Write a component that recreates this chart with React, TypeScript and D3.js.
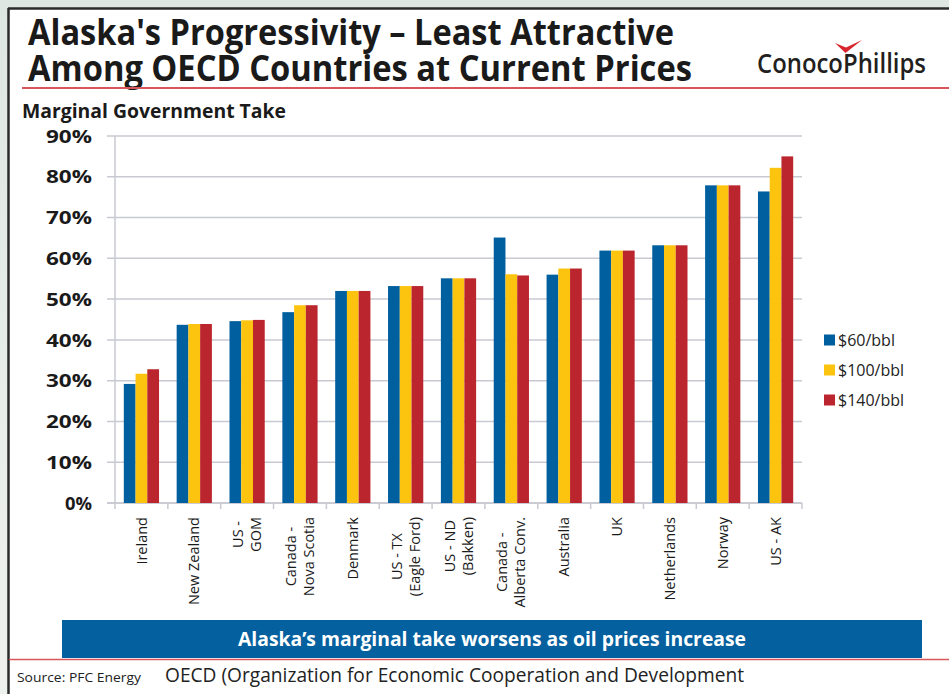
import React, { useEffect, useRef } from "react";
import * as d3 from "d3";

const categories: string[][] = [
  ["Ireland"],
  ["New Zealand"],
  ["US -", "GOM"],
  ["Canada -", "Nova Scotia"],
  ["Denmark"],
  ["US - TX", "(Eagle Ford)"],
  ["US - ND", "(Bakken)"],
  ["Canada -", "Alberta Conv."],
  ["Australia"],
  ["UK"],
  ["Netherlands"],
  ["Norway"],
  ["US - AK"],
];
const seriesNames = ["$60/bbl", "$100/bbl", "$140/bbl"];
const seriesColors = ["#005f9e", "#fdc40f", "#bb252d"];
const price60 = [29.2, 43.7, 44.6, 46.8, 52.0, 53.2, 55.1, 65.1, 56.0, 61.9, 63.2, 77.9, 76.4];
const price100 = [31.7, 43.9, 44.8, 48.5, 52.0, 53.2, 55.1, 56.1, 57.5, 61.9, 63.2, 77.9, 82.2];
const price140 = [32.8, 43.9, 44.9, 48.5, 52.0, 53.2, 55.1, 55.8, 57.5, 61.9, 63.2, 77.9, 85.0];
const yTicks = [0, 10, 20, 30, 40, 50, 60, 70, 80, 90];

const FONT = "'Open Sans', 'DejaVu Sans', sans-serif";

export default function App() {
  const ref = useRef<SVGSVGElement | null>(null);

  useEffect(() => {
    const svg = d3.select(ref.current);
    svg.selectAll("*").remove();
    const W = 949, H = 694;

    // background
    const defs = svg.append("defs");
    const grad = defs.append("linearGradient").attr("id", "bg").attr("x1", 0).attr("y1", 0).attr("x2", 0).attr("y2", 1);
    grad.append("stop").attr("offset", 0).attr("stop-color", "#dfe7e2");
    grad.append("stop").attr("offset", 1).attr("stop-color", "#eef2ef");
    svg.append("rect").attr("width", W).attr("height", H).attr("fill", "url(#bg)");
    svg.append("rect").attr("x", 8).attr("y", 8).attr("width", W - 8).attr("height", H - 8).attr("fill", "#ffffff");
    svg.append("line").attr("x1", 8).attr("x2", W).attr("y1", 8.5).attr("y2", 8.5).attr("stroke", "#2b2b2b").attr("stroke-width", 2.5);
    svg.append("line").attr("x1", 8.5).attr("x2", 8.5).attr("y1", 8).attr("y2", H).attr("stroke", "#2b2b2b").attr("stroke-width", 2.5);

    // title
    const title = svg.append("g").attr("font-family", FONT).attr("font-weight", 700).attr("fill", "#1a1a1a");
    title.append("text").attr("x", 28).attr("y", 45).attr("font-size", 35)
      .attr("textLength", 646).attr("lengthAdjust", "spacingAndGlyphs")
      .text("Alaska's Progressivity – Least Attractive");
    title.append("text").attr("x", 28).attr("y", 81).attr("font-size", 35)
      .attr("textLength", 664).attr("lengthAdjust", "spacingAndGlyphs")
      .text("Among OECD Countries at Current Prices");

    // logo
    svg.append("text").attr("x", 757).attr("y", 73).attr("font-family", FONT).attr("font-size", 27)
      .attr("font-weight", 600).attr("fill", "#231f20").attr("textLength", 169).attr("lengthAdjust", "spacingAndGlyphs")
      .text("ConocoPhillips");
    svg.append("path").attr("d", "M835,43 L846,47.5 L862,40 L845.5,53 Z").attr("fill", "#d7262e");

    svg.append("line").attr("x1", 22).attr("x2", W).attr("y1", 88).attr("y2", 88).attr("stroke", "#d9575b").attr("stroke-width", 2);

    svg.append("text").attr("x", 22).attr("y", 118).attr("font-family", FONT).attr("font-weight", 700)
      .attr("font-size", 19).attr("fill", "#1a1a1a").attr("textLength", 264).attr("lengthAdjust", "spacingAndGlyphs")
      .text("Marginal Government Take");

    // plot
    const x0 = 115, x1 = 802, yTop = 136, yBot = 503;
    const y = d3.scaleLinear().domain([0, 90]).range([yBot, yTop]);
    const xc = d3.scaleBand<number>().domain(d3.range(categories.length)).range([x0, x1]).paddingInner(0).paddingOuter(0);
    const bw = xc.bandwidth();

    const grid = svg.append("g");
    yTicks.forEach((t) => {
      grid.append("line").attr("x1", 107).attr("x2", x1).attr("y1", y(t)).attr("y2", y(t))
        .attr("stroke", t === 0 ? "#b9bac4" : "#c8c9d2").attr("stroke-width", 1.5);
      grid.append("text").attr("x", 92).attr("y", y(t)).attr("dy", "0.36em").attr("text-anchor", "end")
        .attr("font-family", FONT).attr("font-weight", 700).attr("font-size", 18.5).attr("fill", "#1a1a1a")
        .attr("textLength", t === 0 ? 27 : 46).attr("lengthAdjust", "spacingAndGlyphs")
        .text(`${t}%`);
    });
    grid.append("line").attr("x1", x0).attr("x2", x0).attr("y1", yTop).attr("y2", yBot + 6)
      .attr("stroke", "#c8c9d2").attr("stroke-width", 1.5);
    for (let i = 1; i <= categories.length; i++) {
      const xx = x0 + bw * i;
      grid.append("line").attr("x1", xx).attr("x2", xx).attr("y1", yBot).attr("y2", yBot + 6)
        .attr("stroke", "#c8c9d2").attr("stroke-width", 1.5);
    }

    const series = [price60, price100, price140];
    const bars = svg.append("g");
    const barW = bw / 4.5;
    series.forEach((vals, si) => {
      bars.selectAll(null).data(vals).enter().append("rect")
        .attr("x", (_d, i) => (xc(i) as number) + barW * 0.75 + si * barW)
        .attr("y", (d) => y(d))
        .attr("width", barW)
        .attr("height", (d) => yBot - y(d))
        .attr("fill", seriesColors[si]);
    });

    // x labels
    const lab = svg.append("g").attr("font-family", FONT).attr("font-size", 14.5).attr("fill", "#1a1a1a");
    categories.forEach((lines, i) => {
      const cx = (xc(i) as number) + bw / 2;
      const g = lab.append("g").attr("transform", `translate(${cx},517) rotate(-90)`);
      const lh = 18;
      const texts = lines.map((ln, k) =>
        g.append("text").attr("x", 0).attr("y", (k - (lines.length - 1) / 2) * lh)
          .attr("dy", "0.35em").attr("text-anchor", "middle").text(ln)
      );
      const maxLen = d3.max(texts, (t) => (t.node() as SVGTextElement).getComputedTextLength()) || 0;
      texts.forEach((t) => t.attr("x", -maxLen / 2));
    });

    // legend
    const leg = svg.append("g").attr("font-family", FONT).attr("font-size", 16).attr("fill", "#222");
    seriesNames.forEach((nm, i) => {
      const cy = 340 + i * 30;
      leg.append("rect").attr("x", 824).attr("y", cy - 5.5).attr("width", 11).attr("height", 11).attr("fill", seriesColors[i]);
      leg.append("text").attr("x", 838).attr("y", cy).attr("dy", "0.35em").text(nm);
    });

    // banner
    svg.append("rect").attr("x", 62).attr("y", 620).attr("width", 860).attr("height", 38).attr("fill", "#04609e");
    svg.append("text").attr("x", 492).attr("y", 646).attr("text-anchor", "middle").attr("font-family", FONT)
      .attr("font-weight", 700).attr("font-size", 19).attr("fill", "#ffffff")
      .attr("textLength", 508).attr("lengthAdjust", "spacingAndGlyphs")
      .text("Alaska’s marginal take worsens as oil prices increase");
    svg.append("line").attr("x1", 9).attr("x2", W).attr("y1", 659.5).attr("y2", 659.5).attr("stroke", "#d9575b").attr("stroke-width", 1.5);

    // footer
    svg.append("text").attr("x", 17).attr("y", 682).attr("font-family", FONT).attr("font-size", 12.5)
      .attr("fill", "#222").attr("textLength", 124).attr("lengthAdjust", "spacingAndGlyphs").text("Source: PFC Energy");
    svg.append("text").attr("x", 165).attr("y", 682).attr("font-family", FONT).attr("font-size", 19.5)
      .attr("fill", "#222").attr("textLength", 579).attr("lengthAdjust", "spacingAndGlyphs")
      .text("OECD (Organization for Economic Cooperation and Development");
  }, []);

  return (
    <svg ref={ref} width={949} height={694} style={{ position: "absolute", left: 0, top: 0, display: "block" }} />
  );
}
